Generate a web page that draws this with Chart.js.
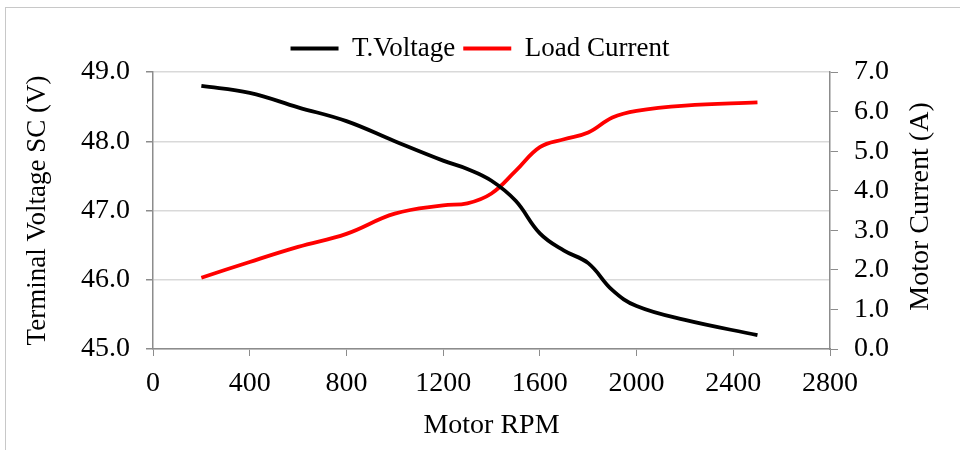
<!DOCTYPE html>
<html>
<head>
<meta charset="utf-8">
<script src="https://cdn.jsdelivr.net/npm/chart.js@4/dist/chart.umd.min.js"></script>
<style>
  html, body { margin: 0; padding: 0; background: #fff; overflow: hidden; }
  #wrap { position: relative; width: 960px; height: 450px; }
  #frame { position: absolute; left: 5px; top: 7px; width: 1000px; height: 500px;
           border: 1px solid #c8c8c8; pointer-events: none; }
</style>
</head>
<body>
<div id="wrap">
  <canvas id="chart" width="960" height="450"></canvas>
  <div id="frame"></div>
</div>
<script>
// Motor speed sweep: terminal voltage and load current
const rpm = [200, 400, 600, 800, 1000, 1200, 1300, 1400, 1500, 1600, 1700, 1800, 1900, 2000, 2200, 2500];
const voltage = [48.80, 48.70, 48.49, 48.29, 48.00, 47.72, 47.60, 47.43, 47.14, 46.67, 46.42, 46.24, 45.85, 45.62, 45.42, 45.20];
const current = [1.80, 2.20, 2.58, 2.91, 3.42, 3.63, 3.68, 3.93, 4.50, 5.10, 5.30, 5.47, 5.85, 6.02, 6.15, 6.23];
const xTicks = [0, 400, 800, 1200, 1600, 2000, 2400, 2800];

const serif = "'Liberation Serif', 'Times New Roman', serif";
const axisGrey = '#8c8c8c';
const rightTitle = 'Motor Current (A)';

function toPoints(ys) {
  return rpm.map((x, i) => ({ x: x, y: ys[i] }));
}

// right-hand axis title, reading bottom to top like the left one
const rightTitlePlugin = {
  id: 'rightTitle',
  afterDraw(chart) {
    const area = chart.chartArea;
    const c = chart.ctx;
    c.save();
    c.translate(921, (area.top + area.bottom) / 2 - 4);
    c.rotate(-Math.PI / 2);
    c.fillStyle = '#000';
    c.font = '28px ' + serif;
    c.textAlign = 'center';
    c.textBaseline = 'middle';
    c.fillText(rightTitle, 0, 0);
    c.restore();
  }
};

const ctx = document.getElementById('chart').getContext('2d');
new Chart(ctx, {
  type: 'line',
  data: {
    datasets: [
      {
        label: 'T.Voltage',
        data: toPoints(voltage),
        yAxisID: 'yV',
        borderColor: '#000000',
        backgroundColor: '#000000',
        borderWidth: 3.8,
        pointRadius: 0,
        tension: 0.4
      },
      {
        label: 'Load Current',
        data: toPoints(current),
        yAxisID: 'yA',
        borderColor: '#ff0000',
        backgroundColor: '#ff0000',
        borderWidth: 3.8,
        pointRadius: 0,
        tension: 0.4
      }
    ]
  },
  plugins: [rightTitlePlugin],
  options: {
    responsive: false,
    animation: false,
    layout: { padding: { top: 27, left: 0, right: 0, bottom: 0 } },
    plugins: {
      tooltip: { enabled: false },
      legend: {
        position: 'top',
        labels: {
          color: '#000',
          font: { family: serif, size: 27 },
          boxWidth: 48,
          boxHeight: 4,
          padding: 8,
          generateLabels: function(chart) {
            const items = Chart.defaults.plugins.legend.labels.generateLabels(chart);
            items.forEach(it => { it.lineWidth = 0; });
            return items;
          }
        }
      }
    },
    scales: {
      x: {
        type: 'linear',
        min: 0,
        max: 2800,
        afterBuildTicks: function(scale) {
          scale.ticks = xTicks.map(v => ({ value: v }));
        },
        afterFit: function(scale) { scale.height = 101; },
        grid: {
          drawOnChartArea: false,
          drawTicks: true,
          tickLength: 7,
          tickColor: axisGrey
        },
        border: { color: axisGrey, width: 1.5 },
        ticks: {
          color: '#000',
          font: { family: serif, size: 28 },
          padding: 11,
          maxRotation: 0,
          callback: v => String(v)
        },
        title: {
          display: true,
          text: 'Motor RPM',
          color: '#000',
          font: { family: serif, size: 28 },
          padding: { top: 4, bottom: 8 }
        }
      },
      yV: {
        type: 'linear',
        position: 'left',
        min: 45,
        max: 49,
        afterFit: function(scale) { scale.width = 153; },
        grid: {
          color: '#d9d9d9',
          lineWidth: 1.5,
          drawTicks: true,
          tickLength: 7,
          tickColor: axisGrey
        },
        border: { color: axisGrey, width: 1.5 },
        ticks: {
          stepSize: 1,
          color: '#000',
          font: { family: serif, size: 28 },
          padding: 16,
          callback: v => v.toFixed(1)
        },
        title: {
          display: true,
          text: 'Terminal Voltage SC (V)',
          color: '#000',
          font: { family: serif, size: 27 },
          padding: { top: 22, bottom: 0 }
        }
      },
      yA: {
        type: 'linear',
        position: 'right',
        min: 0,
        max: 7,
        afterFit: function(scale) { scale.width = 130; },
        grid: {
          drawOnChartArea: false,
          drawTicks: true,
          tickLength: 8,
          tickColor: axisGrey
        },
        border: { color: axisGrey, width: 1.5 },
        ticks: {
          stepSize: 1,
          color: '#000',
          font: { family: serif, size: 28 },
          padding: 16,
          callback: v => v.toFixed(1)
        }
      }
    }
  }
});
</script>
</body>
</html>
